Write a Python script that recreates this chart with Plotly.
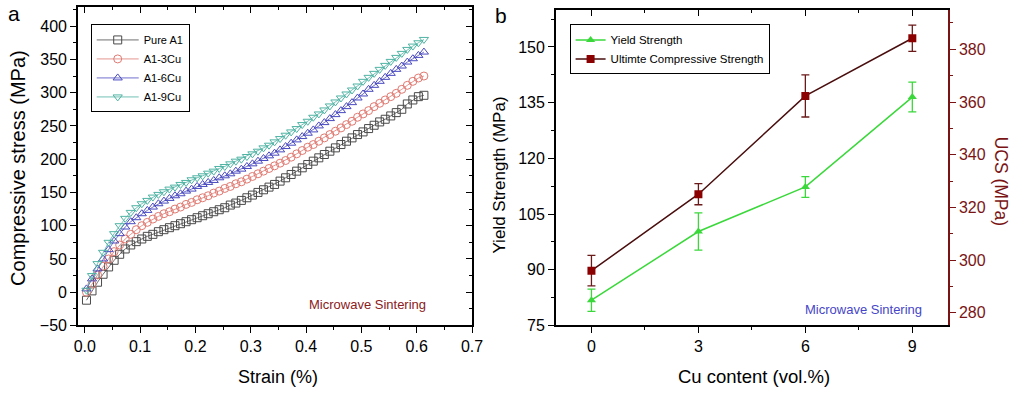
import plotly.graph_objects as go

# ---------------- Panel a data ----------------
strain = [0.003, 0.013, 0.023, 0.033, 0.043, 0.053, 0.063, 0.073, 0.083, 0.093,
          0.103, 0.113, 0.123, 0.133, 0.143, 0.153, 0.163, 0.173, 0.183, 0.193,
          0.203, 0.213, 0.223, 0.233, 0.243, 0.253, 0.263, 0.273, 0.283, 0.293,
          0.303, 0.313, 0.323, 0.333, 0.343, 0.353, 0.363, 0.373, 0.383, 0.393,
          0.403, 0.413, 0.423, 0.433, 0.443, 0.453, 0.463, 0.473, 0.483, 0.493,
          0.503, 0.513, 0.523, 0.533, 0.543, 0.553, 0.563, 0.573, 0.583, 0.593,
          0.603, 0.613]

pure_al = [-12, 2, 15, 27, 38, 48, 57, 65, 71, 76,
           80, 84, 87, 91, 94, 97, 100, 103, 106, 109,
           112, 115, 118, 121, 124, 127, 131, 134, 138, 142,
           146, 150, 154, 158, 162, 167, 172, 177, 182, 187,
           192, 197, 202, 207, 212, 217, 222, 227, 232, 237,
           241, 246, 251, 256, 260, 265, 270, 275, 283, 289,
           294, 296]

al_3cu = [0, 12, 26, 39, 50, 61, 71, 80, 87, 94,
          100, 105, 110, 114, 118, 121, 125, 128, 132, 135,
          139, 142, 145, 149, 152, 156, 159, 163, 166, 170,
          174, 178, 182, 186, 190, 194, 198, 203, 208, 213,
          218, 222, 227, 232, 237, 242, 247, 252, 257, 263,
          268, 273, 279, 284, 289, 294, 299, 305, 311, 317,
          322, 325]

al_6cu = [5, 20, 35, 50, 64, 77, 88, 98, 106, 112,
          118, 123, 128, 133, 137, 141, 145, 148, 152, 155,
          159, 162, 165, 168, 172, 175, 178, 182, 185, 189,
          193, 197, 201, 205, 209, 214, 219, 224, 229, 234,
          239, 244, 250, 255, 261, 267, 273, 279, 285, 292,
          298, 305, 311, 317, 323, 329, 335, 340, 346, 351,
          356, 361]

al_9cu = [3, 25, 43, 60, 75, 88, 100, 111, 120, 127,
          133, 138, 143, 147, 151, 155, 158, 162, 165, 169,
          172, 175, 179, 182, 186, 189, 193, 197, 200, 204,
          208, 212, 217, 221, 226, 231, 236, 241, 246, 252,
          257, 263, 268, 274, 280, 286, 292, 298, 304, 310,
          317, 323, 329, 335, 341, 347, 353, 359, 365, 370,
          375, 380]

# ---------------- Panel b data ----------------
cu_content = [0, 3, 6, 9]
yield_strength = [81.8, 100.3, 112.3, 136.5]
yield_err = [3.0, 5.0, 2.8, 4.0]
ucs = [296.0, 325.0, 362.3, 384.2]
ucs_err = [5.8, 4.0, 8.0, 5.0]

FONT = "Liberation Sans, Arial, sans-serif"
DARKRED = "#7a1414"

fig = go.Figure()

series_a = [
    ("Pure A1", pure_al, "#4a4a4a", "square-open"),
    ("A1-3Cu", al_3cu, "#e07a72", "circle-open"),
    ("A1-6Cu", al_6cu, "#4a4ac0", "triangle-up-open"),
    ("A1-9Cu", al_9cu, "#4fb3a3", "triangle-down-open"),
]
for name, vals, col, sym in series_a:
    fig.add_trace(go.Scatter(
        x=strain, y=vals, name=name, mode="lines+markers",
        line=dict(color=col, width=0.8),
        marker=dict(symbol=sym, size=8, color=col, line=dict(width=1, color=col)),
        xaxis="x", yaxis="y", legend="legend"))

fig.add_trace(go.Scatter(
    x=cu_content, y=yield_strength, name="Yield Strength", mode="lines+markers",
    line=dict(color="#3ad83a", width=1.5),
    marker=dict(symbol="triangle-up", size=8, color="#3ad83a"),
    error_y=dict(type="data", array=yield_err, color="#3ad83a", thickness=1.3, width=4),
    xaxis="x2", yaxis="y2", legend="legend2"))

fig.add_trace(go.Scatter(
    x=cu_content, y=ucs, name="Ultimte Compressive Strength", mode="lines+markers",
    line=dict(color="#4a0e0e", width=1.5),
    marker=dict(symbol="square", size=8, color="#8b0000"),
    error_y=dict(type="data", array=ucs_err, color="#6b1a1a", thickness=1.3, width=4),
    xaxis="x2", yaxis="y3", legend="legend2"))

# empty traces so that the mirrored (inward-tick) frame axes get drawn
for xa, ya in [("x3", "y"), ("x", "y4"), ("x4", "y2")]:
    fig.add_trace(go.Scatter(x=[None], y=[None], mode="markers", xaxis=xa, yaxis=ya,
                             showlegend=False, hoverinfo="skip"))

axis_common = dict(showline=True, linecolor="black", linewidth=1.5, ticks="outside",
                   ticklen=6, tickwidth=1.2, tickcolor="black", showgrid=False,
                   zeroline=False, tickfont=dict(size=16, color="black", family=FONT))
frame_common = dict(showticklabels=False, showline=True, linecolor="black", linewidth=1.5,
                    ticks="inside", ticklen=6, tickwidth=1.2, tickcolor="black",
                    showgrid=False, zeroline=False)

ax_dom = [75 / 1024, 475 / 1024]
bx_dom = [560 / 1024, 958 / 1024]
a_ydom = [1 - 333 / 398, 1 - 7 / 398]
b_ydom = [1 - 333 / 398, 1 - 10 / 398]

fig.update_layout(
    width=1024, height=398, margin=dict(l=0, r=0, t=0, b=0),
    paper_bgcolor="white", plot_bgcolor="white",
    font=dict(family=FONT, color="black"),
    xaxis=dict(domain=ax_dom, range=[-0.0125, 0.7], dtick=0.1, tickformat=".1f",
               minor=dict(dtick=0.05, ticklen=3, ticks="outside", tickcolor="black"),
               anchor="y", **axis_common),
    yaxis=dict(domain=a_ydom, range=[-50, 429], dtick=50, tick0=0,
               minor=dict(dtick=25, ticklen=3, ticks="outside", tickcolor="black"),
               anchor="x", **axis_common),
    xaxis3=dict(domain=ax_dom, range=[-0.0125, 0.7], dtick=0.1, overlaying="x",
                side="top", anchor="y",
                minor=dict(dtick=0.05, ticklen=3, ticks="inside", tickcolor="black"),
                **frame_common),
    yaxis4=dict(domain=a_ydom, range=[-50, 429], dtick=50, tick0=0, overlaying="y",
                side="right", anchor="x",
                minor=dict(dtick=25, ticklen=3, ticks="inside", tickcolor="black"),
                **frame_common),
    xaxis2=dict(domain=bx_dom, range=[-1, 10], tickvals=[0, 3, 6, 9],
                minor=dict(tickvals=[1.5, 4.5, 7.5], ticklen=3, ticks="outside", tickcolor="black"),
                anchor="y2", **axis_common),
    xaxis4=dict(domain=bx_dom, range=[-1, 10], tickvals=[0, 3, 6, 9], overlaying="x2",
                side="top", anchor="y2",
                minor=dict(tickvals=[1.5, 4.5, 7.5], ticklen=3, ticks="inside", tickcolor="black"),
                **frame_common),
    yaxis2=dict(domain=b_ydom, range=[75, 160], tickvals=[75, 90, 105, 120, 135, 150],
                minor=dict(tickvals=[82.5, 97.5, 112.5, 127.5, 142.5, 157.5], ticklen=3,
                           ticks="outside", tickcolor="black"),
                anchor="x2", **axis_common),
    yaxis3=dict(domain=b_ydom, range=[275.2, 395], overlaying="y2", side="right",
                anchor="x2", tickvals=[280, 300, 320, 340, 360, 380],
                minor=dict(tickvals=[290, 310, 330, 350, 370, 390], ticklen=3,
                           ticks="outside", tickcolor=DARKRED),
                showline=True, linecolor=DARKRED, linewidth=1.5, ticks="outside",
                ticklen=6, tickwidth=1.2, tickcolor=DARKRED, showgrid=False, zeroline=False,
                tickfont=dict(size=16, color=DARKRED, family=FONT)),
    legend=dict(x=88 / 1024, y=1 - 25 / 398, xanchor="left", yanchor="top",
                bgcolor="white", bordercolor="black", borderwidth=1,
                font=dict(size=11, family=FONT), tracegroupgap=0, itemwidth=42),
    legend2=dict(x=574 / 1024, y=1 - 25 / 398, xanchor="left", yanchor="top",
                 bgcolor="white", bordercolor="black", borderwidth=1,
                 font=dict(size=11.5, family=FONT), tracegroupgap=0, itemwidth=30),
    showlegend=True,
)

ann = [
    dict(text="a", x=10 / 1024, y=1 - 14 / 398, font=dict(size=21)),
    dict(text="b", x=504 / 1024, y=1 - 16 / 398, font=dict(size=21)),
    dict(text="Compressive stress (MPa)", x=14 / 1024, y=1 - 172 / 398, textangle=-90,
         font=dict(size=20)),
    dict(text="Strain (%)", x=278 / 1024, y=1 - 386 / 398, font=dict(size=18)),
    dict(text="Yield Strength (MPa)", x=503 / 1024, y=1 - 179 / 398, textangle=-90,
         font=dict(size=17)),
    dict(text="Cu content (vol.%)", x=761 / 1024, y=1 - 385 / 398, font=dict(size=18.5)),
    dict(text="UCS (MPa)", x=1012 / 1024, y=1 - 185 / 398, textangle=90,
         font=dict(size=17.5, color=DARKRED)),
    dict(text="Microwave Sintering", x=369 / 1024, y=1 - 312 / 398,
         font=dict(size=13, color="#8b2020")),
    dict(text="Microwave Sintering", x=872 / 1024, y=1 - 317 / 398,
         font=dict(size=13, color="#4646c8")),
]
for a in ann:
    a.update(xref="paper", yref="paper", showarrow=False, xanchor="center", yanchor="middle")
    a["font"].setdefault("color", "black")
    a["font"]["family"] = FONT
fig.update_layout(annotations=ann)

fig.write_html("out.html", config={"displayModeBar": False},
               post_script="document.body.style.margin='0';document.body.style.padding='0';")
